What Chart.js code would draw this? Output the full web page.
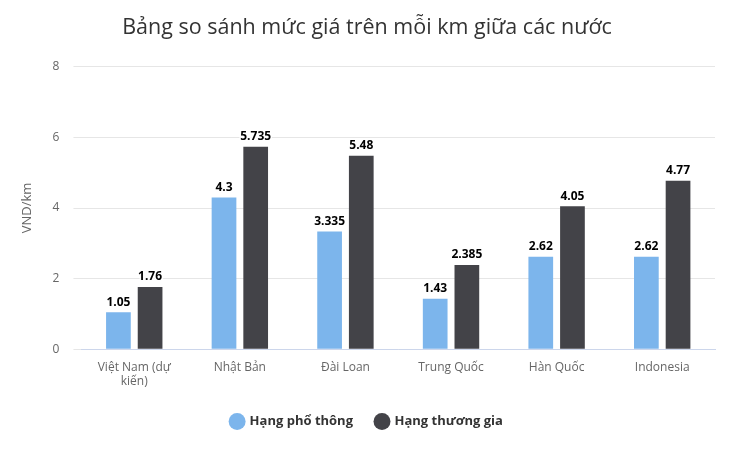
<!DOCTYPE html>
<html>
<head>
<meta charset="utf-8">
<script src="https://cdn.jsdelivr.net/npm/chart.js@4/dist/chart.umd.min.js"></script>
<style>
  html, body { margin: 0; padding: 0; background: #fff; }
  #wrap { width: 745px; height: 459px; }
</style>
</head>
<body>
<div id="wrap"><canvas id="barChart"></canvas></div>
<script>
const countries = [["Việt Nam (dự", "kiến)"], "Nhật Bản", "Đài Loan", "Trung Quốc", "Hàn Quốc", "Indonesia"];
const economy = [1.05, 4.3, 3.335, 1.43, 2.62, 2.62];
const business = [1.76, 5.735, 5.48, 2.385, 4.05, 4.77];
const yTicks = [0, 2, 4, 6, 8];

const fontFamily = "'Open Sans', sans-serif";

const valueLabels = {
  id: "valueLabels",
  afterDatasetsDraw(chart) {
    const c = chart.ctx;
    c.save();
    c.font = "bold 12px " + fontFamily;
    c.textAlign = "center";
    c.textBaseline = "bottom";
    c.lineJoin = "round";
    chart.data.datasets.forEach((ds, i) => {
      chart.getDatasetMeta(i).data.forEach((bar, j) => {
        const txt = String(ds.data[j]);
        c.strokeStyle = "#fff";
        c.lineWidth = 3;
        c.strokeText(txt, bar.x, bar.y - 4);
        c.fillStyle = "#000";
        c.fillText(txt, bar.x, bar.y - 4);
      });
    });
    c.restore();
  },
};

const ctx = document.getElementById("barChart");
new Chart(ctx, {
  type: "bar",
  data: {
    labels: countries,
    datasets: [
      {
        label: "Hạng phổ thông",
        data: economy,
        backgroundColor: "#7cb5ec",
        categoryPercentage: 0.6,
        barPercentage: 0.78,
      },
      {
        label: "Hạng thương gia",
        data: business,
        backgroundColor: "#434348",
        categoryPercentage: 0.6,
        barPercentage: 0.78,
      },
    ],
  },
  plugins: [valueLabels],
  options: {
    responsive: true,
    maintainAspectRatio: false,
    animation: false,
    layout: {
      padding: { left: 19, right: 30, top: 10, bottom: 21 },
    },
    plugins: {
      title: {
        display: true,
        text: "Bảng so sánh mức giá trên mỗi km giữa các nước",
        color: "#333333",
        font: { family: fontFamily, size: 21.5, weight: "normal" },
        padding: { top: 5, bottom: 26 },
      },
      legend: {
        position: "bottom",
        labels: {
          usePointStyle: true,
          pointStyle: "circle",
          boxWidth: 12,
          boxHeight: 12,
          padding: 23,
          color: "#333333",
          font: { family: fontFamily, size: 13, weight: "bold" },
        },
      },
      tooltip: { enabled: false },
    },
    scales: {
      x: {
        grid: { display: false },
        border: { color: "#ccd6eb" },
        ticks: {
          color: "#666666",
          font: { family: fontFamily, size: 12 },
          maxRotation: 0,
          padding: 3,
        },
      },
      y: {
        min: 0,
        max: 8,
        afterBuildTicks(axis) {
          axis.ticks = yTicks.map((v) => ({ value: v }));
        },
        grid: { color: "#e6e6e6" },
        border: { display: false },
        ticks: {
          color: "#666666",
          font: { family: fontFamily, size: 12 },
          padding: 14,
        },
        title: {
          display: true,
          text: "VND/km",
          color: "#666666",
          font: { family: fontFamily, size: 13 },
          padding: { top: 0, bottom: 4 },
        },
      },
    },
  },
});
</script>
</body>
</html>
